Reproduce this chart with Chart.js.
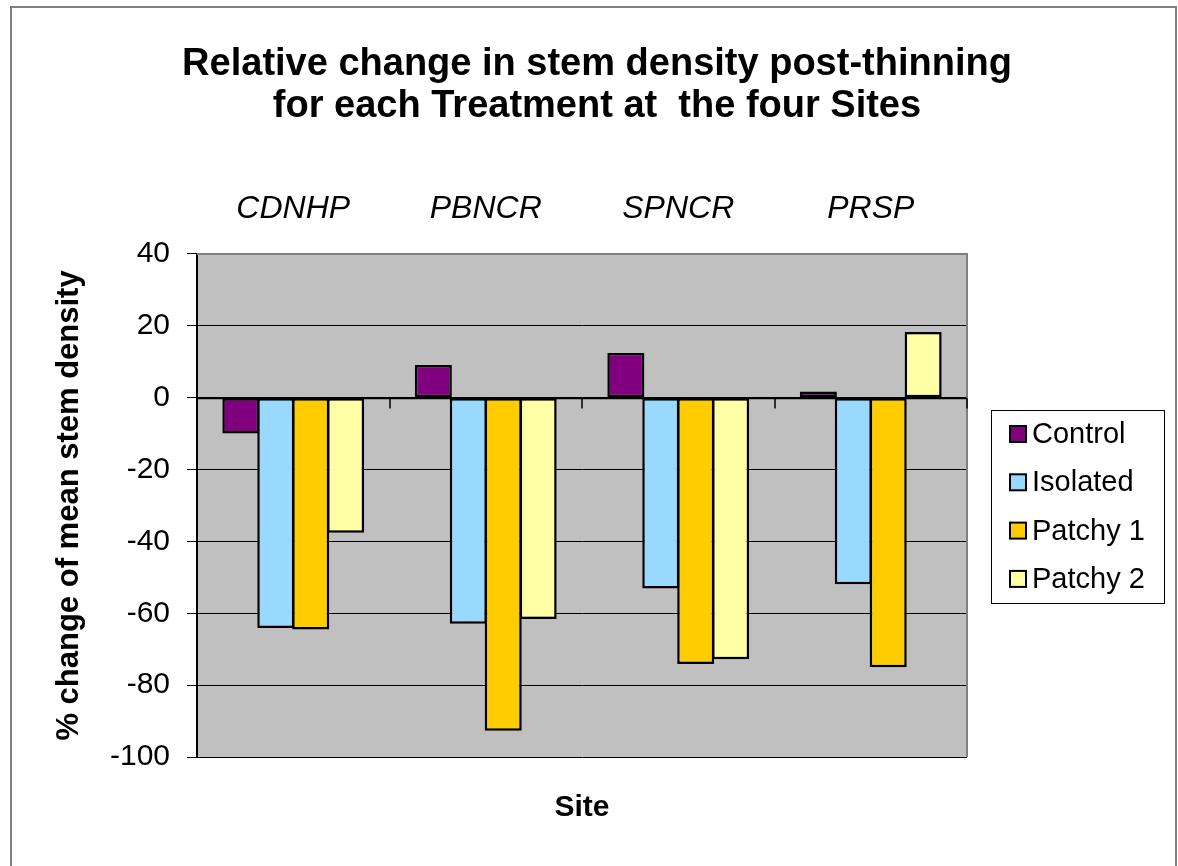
<!DOCTYPE html>
<html>
<head>
<meta charset="utf-8">
<script src="https://cdn.jsdelivr.net/npm/chart.js@4"></script>
<style>
  html, body { margin: 0; padding: 0; background: #ffffff; }
  canvas { display: block; }
</style>
</head>
<body>
<canvas id="c" width="1178" height="866"></canvas>
<script>
// ---- data ----
const sites = ['CDNHP', 'PBNCR', 'SPNCR', 'PRSP'];
const seriesNames = ['Control', 'Isolated', 'Patchy 1', 'Patchy 2'];
const control  = [-10.0,   9.1,  12.4,   1.7];
const isolated = [-64.1, -62.9, -53.1, -51.9];
const patchy1  = [-64.5, -92.7, -74.1, -75.0];
const patchy2  = [-37.6, -61.6, -72.8,  18.3];
const yMin = -100, yMax = 40, yStep = 20;
const titleLines = ['Relative change in stem density post-thinning', 'for each Treatment at  the four Sites'];
const yTitle = '% change of mean stem density';
const xTitle = 'Site';

const colors = ['#800080', '#99D9FF', '#FFCC00', '#FFFFA6'];
const FONT = '"Liberation Sans", Arial, Helvetica, sans-serif';
Chart.defaults.font.family = FONT;
Chart.defaults.color = '#000000';

const backgroundPlugin = {
  id: 'bg',
  beforeDraw(chart) {
    const {ctx, chartArea: a} = chart;
    ctx.save();
    ctx.fillStyle = '#ffffff';
    ctx.fillRect(0, 0, chart.width, chart.height);
    ctx.strokeStyle = '#808080';
    ctx.lineWidth = 2;
    ctx.strokeRect(11, 7, chart.width - 13, chart.height + 20);
    ctx.fillStyle = '#C0C0C0';
    ctx.fillRect(a.left, a.top, a.right - a.left, a.bottom - a.top);
    ctx.restore();
  },
  beforeDatasetsDraw(chart) {
    const {ctx, chartArea: a, scales} = chart;
    ctx.save();
    ctx.strokeStyle = '#808080';
    ctx.lineWidth = 2;
    ctx.beginPath();
    ctx.moveTo(a.left, a.top);
    ctx.lineTo(a.right, a.top);
    ctx.lineTo(a.right, a.bottom);
    ctx.stroke();
    const y0 = Math.round(scales.y.getPixelForValue(0)) + 0.5;
    ctx.strokeStyle = '#000000';
    ctx.lineWidth = 1.5;
    ctx.beginPath();
    ctx.moveTo(a.left, y0);
    ctx.lineTo(a.right, y0);
    const xs = scales.x;
    const n = sites.length;
    const w = (a.right - a.left) / n;
    for (let i = 0; i <= n; i++) {
      const px = (i < n ? xs.getPixelForValue(i) - w / 2 : xs.getPixelForValue(n - 1) + w / 2);
      ctx.moveTo(Math.round(px), y0);
      ctx.lineTo(Math.round(px), y0 + 10);
    }
    ctx.stroke();
    ctx.restore();
  },
  afterDraw(chart) {
    const {ctx, chartArea: a} = chart;
    ctx.save();
    const bx = a.right + 24, by = 410, bw = 173, bh = 193;
    ctx.strokeStyle = '#000000';
    ctx.lineWidth = 1;
    ctx.strokeRect(bx + 0.5, by + 0.5, bw, bh);
    ctx.font = '29px ' + FONT;
    ctx.textBaseline = 'middle';
    ctx.textAlign = 'left';
    chart.data.datasets.forEach((ds, i) => {
      const cy = by + 24 + i * 48.3;
      ctx.fillStyle = ds.backgroundColor;
      ctx.fillRect(bx + 19, cy - 8, 16, 16);
      ctx.strokeStyle = '#000000';
      ctx.lineWidth = 2;
      ctx.strokeRect(bx + 19, cy - 8, 16, 16);
      ctx.fillStyle = '#000000';
      ctx.fillText(ds.label, bx + 41, cy + 1);
    });
    ctx.restore();
  }
};

const seriesData = [control, isolated, patchy1, patchy2];

new Chart(document.getElementById('c'), {
  type: 'bar',
  data: {
    labels: sites,
    datasets: seriesData.map((d, i) => ({
      label: seriesNames[i],
      data: d,
      backgroundColor: colors[i],
      borderColor: '#000000',
      borderWidth: 2.5,
      borderSkipped: false,
      categoryPercentage: 0.726,
      barPercentage: 1.06
    }))
  },
  options: {
    responsive: false,
    devicePixelRatio: 1,
    animation: false,
    layout: { padding: { left: 20, right: 4, top: 0, bottom: 0 } },
    plugins: {
      legend: { display: false },
      tooltip: { enabled: false },
      title: {
        display: true,
        text: titleLines,
        color: '#000000',
        font: { size: 38, weight: 'bold', lineHeight: 1.12 },
        padding: { top: 43, bottom: 8 }
      }
    },
    scales: {
      x: {
        position: 'top',
        grid: { display: false, drawTicks: false },
        border: { display: false },
        ticks: { font: { size: 32, style: 'italic' }, padding: 26, color: '#000000' },
        afterFit(s) { s.height = 117.8; }
      },
      x2: {
        type: 'category',
        position: 'bottom',
        grid: { display: false, drawTicks: false },
        border: { display: false },
        ticks: { display: false },
        title: { display: true, text: xTitle, font: { size: 30, weight: 'bold' }, padding: { top: 0, bottom: 40 }, color: '#000000' },
        afterFit(s) { s.height = 109; }
      },
      y: {
        min: yMin,
        max: yMax,
        ticks: { stepSize: yStep, font: { size: 30 }, padding: 17, color: '#000000' },
        grid: { color: '#000000', lineWidth: 1, drawTicks: true, tickLength: 10, tickColor: '#000000' },
        border: { display: true, color: '#000000', width: 2 },
        title: { display: true, text: yTitle, font: { size: 31, weight: 'bold' }, padding: { top: 31, bottom: 0 }, color: '#000000' },
        afterFit(s) { s.width = 177; }
      },
      yR: {
        type: 'linear',
        position: 'right',
        grid: { display: false, drawTicks: false },
        border: { display: false },
        ticks: { display: false },
        afterFit(s) { s.width = 207; }
      }
    }
  },
  plugins: [backgroundPlugin]
});
</script>
</body>
</html>
